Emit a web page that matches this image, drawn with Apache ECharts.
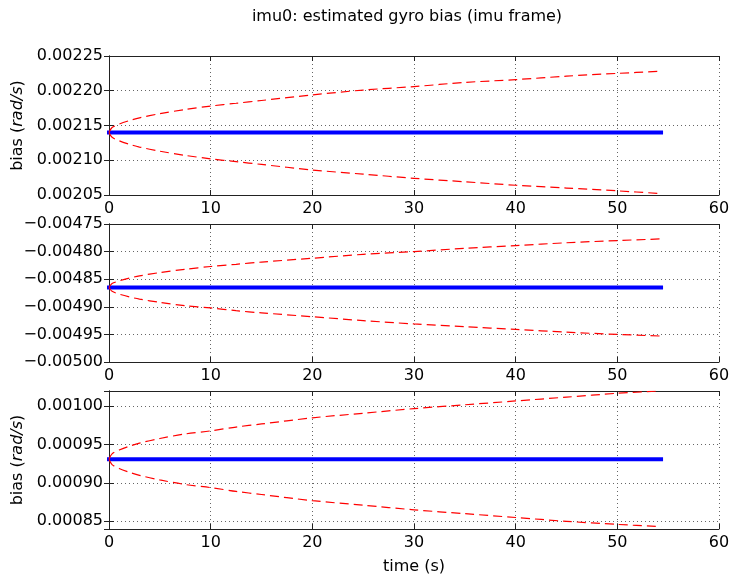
<!DOCTYPE html>
<html><head><meta charset="utf-8">
<script src="https://cdn.jsdelivr.net/npm/echarts@6/dist/echarts.min.js"></script>
<style>html,body{margin:0;padding:0;background:#fff}#c{width:734px;height:579px}</style>
</head><body><div id="c"></div>
<script>
// ---- data ----
const titleText = 'imu0: estimated gyro bias (imu frame)';
const xLabel = 'time (s)';
const yLabelRich = '{n|bias (}{i|rad/s}{n|)}';
const xTicks = [0, 10, 20, 30, 40, 50, 60];

const times = [0, 0.3, 1, 2, 3, 5, 7.5, 10, 12.5, 15, 20, 25, 30, 35, 40, 45, 50, 54.3];
const meanTimes = [0, 54.3];

const meanX = [0.00214, 0.00214];
const upperX = [0.00214, 0.002147, 0.002152, 0.002157, 0.002161, 0.002167, 0.002173, 0.002178, 0.002182, 0.002186, 0.002194, 0.002201, 0.002206, 0.002212, 0.002216, 0.002221, 0.002225, 0.002228];
const lowerX = [0.00214, 0.002133, 0.002128, 0.002123, 0.002119, 0.002113, 0.002107, 0.002102, 0.002098, 0.002094, 0.002086, 0.002080, 0.002074, 0.002069, 0.002064, 0.002060, 0.002056, 0.002052];

const meanY = [-0.004865, -0.004865];
const upperY = [-0.004865, -0.004858, -0.004853, -0.004848, -0.004844, -0.004838, -0.004832, -0.004827, -0.004823, -0.004819, -0.004812, -0.004805, -0.0048, -0.004794, -0.004789, -0.004784, -0.00478, -0.004777];
const lowerY = [-0.004865, -0.004872, -0.004877, -0.004882, -0.004886, -0.004892, -0.004898, -0.004902, -0.004907, -0.004911, -0.004918, -0.004925, -0.004931, -0.004936, -0.004941, -0.004946, -0.00495, -0.004953];

const meanZ = [0.000931, 0.000931];
const upperZ = [0.000931, 0.000938, 0.000943, 0.000948, 0.000952, 0.000958, 0.000964, 0.000968, 0.000973, 0.000977, 0.000985, 0.000991, 0.000997, 0.001002, 0.001007, 0.001012, 0.001017, 0.00102];
const lowerZ = [0.000931, 0.000924, 0.000919, 0.000914, 0.00091, 0.000904, 0.000898, 0.000894, 0.000889, 0.000885, 0.000877, 0.000871, 0.000865, 0.00086, 0.000855, 0.00085, 0.000846, 0.000843];

const yRanges = [[0.00205, 0.00225], [-0.00500, -0.00475], [0.00084, 0.00102]];
const yStep = 0.00005;

// ---- chart ----
const FONT = 'DejaVu Sans';
const panels = [
  {mean: meanX, up: upperX, lo: lowerX, label: true},
  {mean: meanY, up: upperY, lo: lowerY, label: false},
  {mean: meanZ, up: upperZ, lo: lowerZ, label: true}
];
const grids = [
  {left: 109, width: 610, top: 56, height: 139},
  {left: 109, width: 610, top: 224, height: 138},
  {left: 109, width: 610, top: 391, height: 138}
];
const pairs = arr => arr.map((v, i) => [ (arr.length === 2 ? meanTimes : times)[i], v ]);
const fmt = v => (Math.round(v * 1e5) / 1e5).toFixed(5).replace('-', '\u2212');
const axisLine = {show: true, lineStyle: {color: '#222', width: 1}};
const tick = {show: true, inside: true, length: 5, lineStyle: {color: '#222'}};

const xAxis = [], yAxis = [], series = [];
grids.forEach((g, i) => {
  const aligned = Math.abs(yRanges[i][0] / yStep - Math.round(yRanges[i][0] / yStep)) < 1e-6;
  const baseX = {type: 'value', gridIndex: i, min: 0, max: 60, interval: 10, axisLine, axisTick: tick};
  xAxis.push(Object.assign({}, baseX, {
    position: 'bottom',
    axisLabel: {show: true, color: '#000', fontSize: 16, fontFamily: FONT, margin: 6,
                formatter: v => xTicks.includes(v) ? String(v) : ''},
    splitLine: {show: true, lineStyle: {color: '#666', width: 1, type: [1, 3]}},
    name: i === 2 ? xLabel : '', nameLocation: 'middle', nameGap: 30,
    nameTextStyle: {color: '#000', fontSize: 16, fontFamily: FONT}
  }));
  xAxis.push(Object.assign({}, baseX, {position: 'top', axisLabel: {show: false}, splitLine: {show: false}}));
  const baseY = {type: 'value', gridIndex: i, min: yRanges[i][0], max: yRanges[i][1], axisLine, axisTick: tick};
  if (aligned) baseY.interval = yStep; else baseY.splitNumber = 3;
  yAxis.push(Object.assign({}, baseY, {
    position: 'left',
    axisLabel: {show: true, color: '#000', fontSize: 16, fontFamily: FONT, margin: 6, formatter: fmt,
                showMinLabel: aligned, showMaxLabel: aligned},
    splitLine: {show: true, lineStyle: {color: '#666', width: 1, type: [1, 3]}},
    name: panels[i].label ? yLabelRich : '', nameLocation: 'middle', nameGap: 77,
    nameTextStyle: {color: '#000', fontSize: 16, fontFamily: FONT,
      rich: {n: {fontSize: 16, fontFamily: FONT, color: '#000'},
             i: {fontSize: 16, fontFamily: FONT, fontStyle: 'italic', color: '#000'}}}
  }));
  yAxis.push(Object.assign({}, baseY, {position: 'right', axisLabel: {show: false}, splitLine: {show: false}}));
  const p = panels[i];
  series.push({type: 'line', xAxisIndex: 2 * i, yAxisIndex: 2 * i, data: pairs(p.mean), showSymbol: false,
    lineStyle: {color: '#0000ff', width: 4, cap: 'square'}, z: 2, silent: true});
  [p.up, p.lo].forEach(arr => series.push({type: 'line', xAxisIndex: 2 * i, yAxisIndex: 2 * i, data: pairs(arr),
    showSymbol: false, smooth: 0.3, lineStyle: {color: '#ff0000', width: 1.2, type: [9, 5]}, z: 3, silent: true}));
});

const chart = echarts.init(document.getElementById('c'), null, {renderer: 'canvas'});
chart.setOption({
  animation: false,
  backgroundColor: '#fff',
  grid: grids,
  xAxis, yAxis, series,
  graphic: [{type: 'text', x: 407, y: 17,
    style: {text: titleText, textAlign: 'center', textVerticalAlign: 'middle', fill: '#000', font: '16px "DejaVu Sans"'}}]
});
</script></body></html>
